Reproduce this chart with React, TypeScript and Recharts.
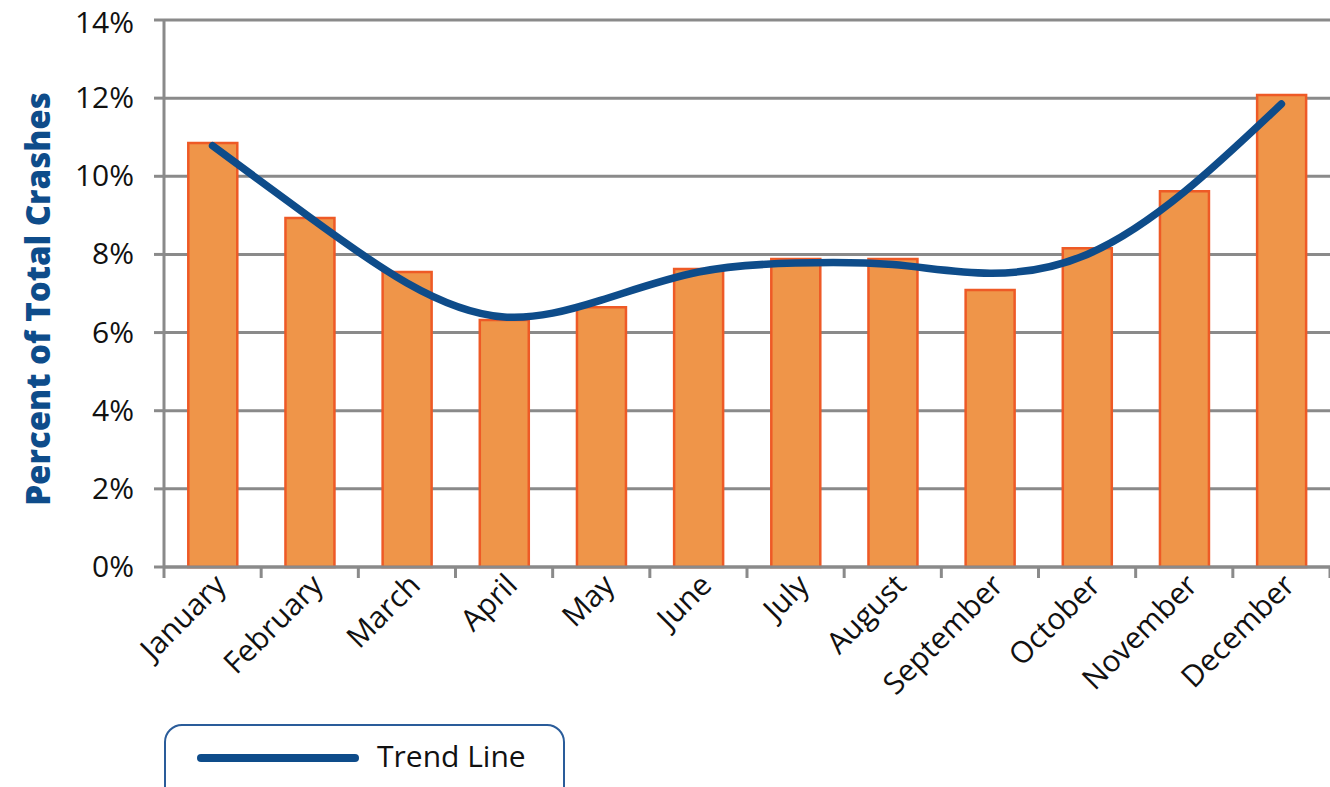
import React from 'react';
import { ComposedChart, Bar, Line, XAxis, YAxis, CartesianGrid } from 'recharts';

const months = [
  'January', 'February', 'March', 'April', 'May', 'June',
  'July', 'August', 'September', 'October', 'November', 'December',
];
const crashShare = [10.85, 8.93, 7.55, 6.32, 6.65, 7.63, 7.88, 7.88, 7.09, 8.16, 9.62, 12.08];
const trend = [10.78, 8.95, 7.27, 6.4, 6.83, 7.55, 7.78, 7.74, 7.52, 8.0, 9.6, 11.85];
const yTicks = [0, 2, 4, 6, 8, 10, 12, 14];

const data = months.map((month, i) => ({ month, share: crashShare[i], trend: trend[i] }));

const FONT = '"Open Sans", sans-serif';
const GRID = '#8a8a8a';
const BLUE = '#0e4c8a';

// category ticks sit on the boundaries between months, labels on the centres
const MonthTick = (props: any) => {
  const { x, y, payload, index, visibleTicksCount } = props;
  const band = 1166 / (visibleTicksCount || 12);
  const bx = x - band / 2;
  const ax = x + 15;
  const ay = y + 20;
  return (
    <g>
      <line x1={bx} y1={y} x2={bx} y2={y + 11} stroke={GRID} strokeWidth={3} />
      {index === (visibleTicksCount || 12) - 1 && (
        <line x1={bx + band} y1={y} x2={bx + band} y2={y + 11} stroke={GRID} strokeWidth={3} />
      )}
      <text
        x={ax}
        y={ay}
        transform={`rotate(-45, ${ax}, ${ay})`}
        textAnchor="end"
        fontFamily={FONT}
        fontSize={30}
        fill="#111"
      >
        {payload.value}
      </text>
    </g>
  );
};

// y-axis tick labels, nudged so the top one stays inside the frame
const PercentTick = (props: any) => {
  const { x, y, payload } = props;
  return (
    <text
      x={x}
      y={y}
      dy={payload.value === 14 ? 13 : 10}
      textAnchor="end"
      fontFamily={FONT}
      fontSize={30}
      fill="#111"
    >
      {`${payload.value}%`}
    </text>
  );
};

const YLabel = () => (
  <text
    x={37}
    y={299}
    transform="rotate(-90, 37, 299)"
    textAnchor="middle"
    dominantBaseline="central"
    fontFamily={FONT}
    fontWeight={800}
    fontSize={33}
    fill={BLUE}
  >
    Percent of Total Crashes
  </text>
);

const App: React.FC = () => {
  return (
    <div style={{ position: 'absolute', left: 0, top: 0, width: 1330, height: 787, overflow: 'hidden', background: '#fff' }}>
      <ComposedChart
        width={1330}
        height={787}
        data={data}
        margin={{ top: 20, right: 0, left: 0, bottom: 0 }}
        barCategoryGap="25%"
      >
        <CartesianGrid vertical={false} stroke={GRID} strokeWidth={3} />
        <XAxis
          dataKey="month"
          interval={0}
          height={220}
          stroke={GRID}
          strokeWidth={3}
          tickLine={false}
          tickSize={0}
          tickMargin={0}
          tick={<MonthTick />}
        />
        <YAxis
          domain={[0, 14]}
          ticks={yTicks}
          width={164}
          stroke={GRID}
          strokeWidth={3}
          tickSize={10}
          tickMargin={20}
          tick={<PercentTick />}
        />
        <Bar dataKey="share" fill="#ef9549" stroke="#ee5a26" strokeWidth={2.5} isAnimationActive={false} />
        <Line
          dataKey="trend"
          type="natural"
          stroke={BLUE}
          strokeWidth={7.5}
          strokeLinecap="round"
          dot={false}
          activeDot={false}
          isAnimationActive={false}
        />
        <YLabel />
      </ComposedChart>
      <div
        style={{
          position: 'absolute',
          left: 164,
          top: 724,
          width: 401,
          height: 80,
          border: '2px solid #2a5c9a',
          borderRadius: 18,
          boxSizing: 'border-box',
          fontFamily: FONT,
        }}
      >
        <div style={{ position: 'absolute', left: 31, top: 28, width: 162, height: 8, borderRadius: 4, background: BLUE }} />
        <div style={{ position: 'absolute', left: 211, top: 9, fontSize: 30, color: '#111' }}>Trend Line</div>
      </div>
    </div>
  );
};

export default App;
